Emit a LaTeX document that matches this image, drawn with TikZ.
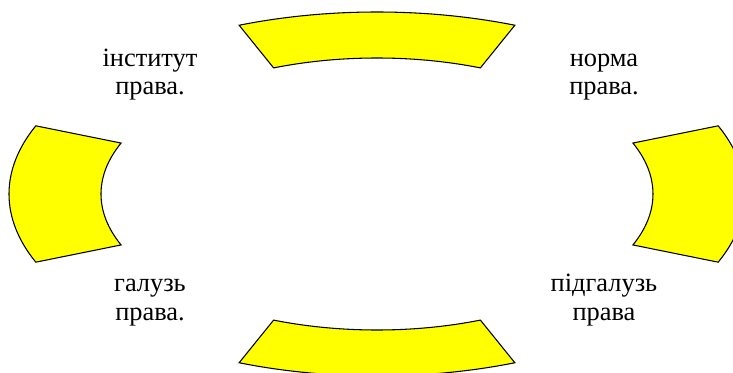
\documentclass[tikz,border=0pt]{standalone}
\usepackage{fontspec}
\setmainfont{Liberation Serif}
\definecolor{segyellow}{RGB}{255,255,0}
\begin{document}
\begin{tikzpicture}[x=0.75pt,y=0.75pt]
\tikzset{
  segment/.style={fill=segyellow, draw=black, line width=0.8pt, line join=miter},
  lbl/.style={font=\fontsize{19.8}{21.2}\selectfont, align=center, anchor=base, inner sep=0pt}
}
\useasboundingbox (-377,-178) rectangle (356,194);
\clip (-377,-178) rectangle (356,194);
\foreach \s/\e in {68/112,158/202,248/292,-22/22}{
  \draw[segment] ({368*cos(\s)},{182*sin(\s)})
    arc[start angle=\s, end angle=\e, x radius=368, y radius=182]
    -- ({276*cos(\e)},{136*sin(\e)})
    arc[start angle=\e, end angle=\s, x radius=276, y radius=136]
    -- cycle;
}
\node[lbl] (inst) at (-227,99) {інститут\\права.};
\node[lbl] (norma) at (227,99) {норма\\права.};
\node[lbl] (galuz) at (-227,-126) {галузь\\права.};
\node[lbl] (pidgaluz) at (227,-126) {підгалузь\\права};
\end{tikzpicture}
\end{document}
